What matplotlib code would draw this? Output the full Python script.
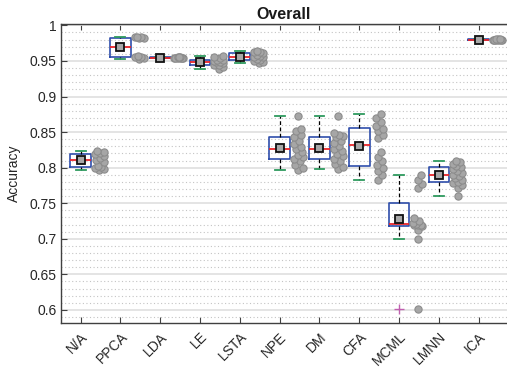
import numpy as np
import matplotlib.pyplot as plt
from matplotlib.ticker import MultipleLocator

plt.rcParams['font.family'] = ['Liberation Sans', 'DejaVu Sans']

# -----------------------------
# Accuracy of each method over the runs
# -----------------------------
methods = ['N/A', 'PPCA', 'LDA', 'LE', 'LSTA', 'NPE', 'DM', 'CFA', 'MCML', 'LMNN', 'ICA']

acc_na = [0.796, 0.798, 0.800, 0.8006, 0.803, 0.808, 0.811, 0.813, 0.816, 0.819, 0.820, 0.822, 0.824]
acc_ppca = [0.953, 0.9545, 0.955, 0.956, 0.957, 0.982, 0.9825, 0.983, 0.983, 0.9835]
acc_lda = [0.9542, 0.9544, 0.9545, 0.9546, 0.9546, 0.9547, 0.9548, 0.9549, 0.9550, 0.9551]
acc_le = [0.939, 0.942, 0.944, 0.945, 0.947, 0.948, 0.949, 0.950, 0.951, 0.952, 0.954, 0.956, 0.957]
acc_lsta = [0.947, 0.949, 0.950, 0.951, 0.953, 0.955, 0.956, 0.957, 0.959, 0.9608, 0.962, 0.963, 0.964]
acc_npe = [0.797, 0.800, 0.804, 0.809, 0.8127, 0.815, 0.818, 0.822, 0.8263, 0.829, 0.833, 0.838,
           0.8427, 0.846, 0.851, 0.855, 0.872]
acc_dm = [0.798, 0.801, 0.805, 0.810, 0.8127, 0.816, 0.819, 0.823, 0.8263, 0.830, 0.834, 0.838,
          0.8427, 0.844, 0.846, 0.849, 0.872]
acc_cfa = [0.7823, 0.789, 0.795, 0.800, 0.804, 0.809, 0.815, 0.8225,
           0.842, 0.846, 0.851, 0.855, 0.859, 0.864, 0.870, 0.876]
acc_mcml = [0.601, 0.700, 0.712, 0.718, 0.719, 0.7195, 0.720, 0.7205, 0.722, 0.725, 0.729,
            0.771, 0.777, 0.783, 0.790]
acc_lmnn = [0.7606, 0.772, 0.775, 0.778, 0.7795, 0.782, 0.785, 0.788, 0.790, 0.792, 0.795, 0.798,
            0.8014, 0.803, 0.805, 0.808, 0.810]
acc_ica = [0.9796, 0.9797, 0.9798, 0.9799, 0.9800, 0.9800, 0.9801, 0.9802, 0.9803, 0.9804]

groups = [acc_na, acc_ppca, acc_lda, acc_le, acc_lsta, acc_npe, acc_dm, acc_cfa, acc_mcml, acc_lmnn, acc_ica]

ytick_vals = [0.6, 0.65, 0.7, 0.75, 0.8, 0.85, 0.9, 0.95, 1.0]
ytick_text = ['0.6', '0.65', '0.7', '0.75', '0.8', '0.85', '0.9', '0.95', '1']

# colours
BLUE = '#2f4eab'
RED = '#e8262b'
GREEN = '#2e9a5e'
GRAY_PT = '#a6a6a6'

# -----------------------------
# Figure and axes
# -----------------------------
W, H, DPI = 507, 369, 100
fig = plt.figure(figsize=(W / DPI, H / DPI), dpi=DPI)
ax_l, ax_b, ax_w, ax_h = 0.1197, 0.1255, 0.8803, 0.8086
ax = fig.add_axes([ax_l, ax_b, ax_w, ax_h])

xlim = (0.5, 11.71)
ylim = (0.582, 1.0015)
ax.set_xlim(*xlim)
ax.set_ylim(*ylim)

positions = np.arange(1, len(methods) + 1)

bp = ax.boxplot(groups, positions=positions, widths=0.52, whis=1.5, showmeans=True,
                capwidths=0.25, manage_ticks=False, zorder=2,
                boxprops=dict(color=BLUE, lw=1.2),
                medianprops=dict(color=RED, lw=1.3),
                whiskerprops=dict(color='black', lw=0.9, ls=(0, (3, 2))),
                capprops=dict(color=GREEN, lw=1.3),
                meanprops=dict(marker='s', markerfacecolor='#a8a8a8', markeredgecolor='#111111',
                               markersize=6, markeredgewidth=1.3),
                flierprops=dict(marker='+', markeredgecolor='#c060b0', markersize=7,
                                markeredgewidth=1.0))

# raw points next to each box, nudged sideways (within a narrow band) so they overlap less
xpx = ax_w * W / (xlim[1] - xlim[0])
ypx = ax_h * H / (ylim[1] - ylim[0])


def swarm_offsets(vals, diam=6.0, half_band=4.5):
    cands = [0.0]
    for k in range(1, 10):
        c = k * half_band / 9
        cands += [c, -c]
    placed = []
    offs = []
    for v in vals:
        y = v * ypx
        best, best_d = 0.0, -1.0
        for c in cands:
            d = min([np.hypot(c - px, y - py) for px, py in placed] or [99.0])
            if d >= diam:
                best = c
                break
            if d > best_d:
                best, best_d = c, d
        placed.append((best, y))
        offs.append(best / xpx)
    return np.array(offs)


for p, vals in zip(positions, groups):
    vals = np.sort(np.asarray(vals))
    xs = p + 0.47 + swarm_offsets(vals)
    ax.plot(xs, vals, 'o', color=GRAY_PT, markeredgecolor='#8c8c8c', markersize=5.2,
            markeredgewidth=0.8, zorder=3, clip_on=False)

# -----------------------------
# Grid, ticks, labels
# -----------------------------
ax.yaxis.set_minor_locator(MultipleLocator(0.01))
ax.grid(which='minor', axis='y', ls=(0, (1, 2.2)), color='#c4c4c4', lw=0.8, zorder=0)
ax.grid(which='major', axis='y', ls='-', color='#e2e2e2', lw=1.3, zorder=0)
ax.set_axisbelow(True)

ax.set_yticks(ytick_vals, ytick_text)
ax.set_xticks(positions, methods, rotation=45, ha='right', rotation_mode='anchor')

ax.tick_params(axis='both', which='major', direction='in', length=4, width=0.8,
               colors='#404040', labelcolor='#262626', labelsize=10)
ax.tick_params(axis='x', top=True, pad=5)
ax.tick_params(axis='y', right=False, pad=3)
ax.tick_params(which='minor', length=0)

for side in ['left', 'bottom', 'top']:
    ax.spines[side].set_color('#404040')
    ax.spines[side].set_linewidth(1.0)
ax.spines['right'].set_visible(False)

ax.set_ylabel('Accuracy', fontsize=10, color='#262626', labelpad=6)
ax.set_title('Overall', fontsize=11.5, fontweight='bold', color='#1a1a1a', pad=4)

fig.savefig('out.png', dpi=DPI)
